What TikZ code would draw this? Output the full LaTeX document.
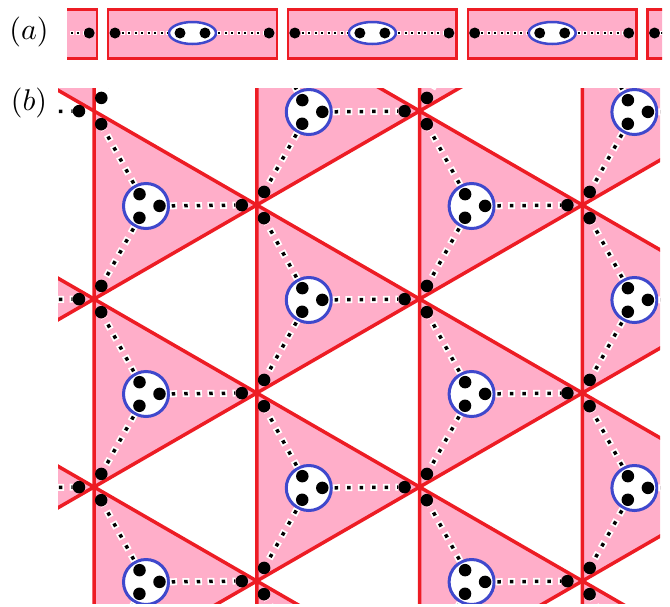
\documentclass[tikz,border=0pt]{standalone}
\usetikzlibrary{calc,shapes.geometric}
\definecolor{rose}{RGB}{255,174,201}
\definecolor{paintred}{RGB}{237,28,36}
\definecolor{paintblue}{RGB}{63,72,204}
\begin{document}
\begin{tikzpicture}[x=1pt, y=-1pt,
        cell/.style={fill=rose, draw=paintred, line width=3.5pt},
        bar/.style={rectangle, fill=rose, draw=paintred, line width=2.5pt,
        minimum width=168.7, minimum height=49.2, inner sep=0pt},
        ring/.style={circle, fill=white, draw=paintblue, line width=3pt,
        minimum size=45, inner sep=0pt},
        oval/.style={ellipse, fill=white, draw=paintblue, line width=2.5pt,
        minimum width=47, minimum height=22, inner sep=0pt},
        bead/.style={circle, fill=black, minimum size=12.5, inner sep=0pt},
        smallbead/.style={bead, minimum size=11},
        link/.style={draw=white, line width=7pt, dash pattern=on 7pt off 5.5pt,
        postaction={draw=black, line width=3.5pt, dash pattern=on 3.5pt off 9pt,
        dash phase=10.75pt}},
        smalllink/.style={draw=white, line width=4pt, dash pattern=on 4pt off 2.5pt,
        postaction={draw=black, line width=2pt, dash pattern=on 2pt off 4.5pt,
        dash phase=5.5pt}}
    ]
        \useasboundingbox (0,0) rectangle (670,606);
        \node[scale=3] (la) at (29,32) {$(a)$};
        \node[scale=3] (lb) at (29,103) {$(b)$};

        % (a) chain of dimers
        \begin{scope}
            \clip (67,0) rectangle (662,70);
            \foreach \n in {0,...,4} {
                \pgfmathsetmacro{\xc}{192.5+(\n-1)*179.85}
                \node[bar] (box\n) at (\xc,34) {};
                \node[oval] (el\n) at (\xc,33) {};
                \node[smallbead] (ia\n) at (\xc-12.5,33) {};
                \node[smallbead] (ib\n) at (\xc+12.5,33) {};
                \node[smallbead] (pl\n) at (\xc-77.5,33) {};
                \node[smallbead] (pr\n) at (\xc+76.5,33) {};
                \draw[smalllink] (pl\n) -- (el\n);
                \draw[smalllink] (el\n) -- (pr\n);
            }
        \end{scope}

        % (b) trimers on the triangles
        \begin{scope}
            \clip (58,88) rectangle (660,603);
            \filldraw[cell] (-68.8,17) -- (94,-77) -- (94,111) -- cycle;
            \foreach \j in {0,...,4}
            \foreach \k in {0,...,3} {
                \pgfmathsetmacro{\xl}{94+(\j-1)*162.8}
                \pgfmathsetmacro{\yt}{111+94*(1-mod(\j,2))+188*(\k-1)}
                \coordinate (a\j\k) at (\xl,\yt);
                \coordinate (b\j\k) at (\xl,\yt+188);
                \coordinate (c\j\k) at (\xl+162.8,\yt+94);
                \coordinate (o\j\k) at (\xl+52,\yt+95);
                \pgfmathtruncatemacro{\hide}{(\j<2)&&(\k==0)}
                \ifnum\hide=0
                    \filldraw[cell] (a\j\k) -- (b\j\k) -- (c\j\k) -- cycle;
                \fi
            }
            \foreach \j in {0,...,4}
            \foreach \k in {0,...,3} {
                \node[ring] (r\j\k) at (o\j\k) {};
                \foreach \v in {a,b,c} {
                    \node[bead] (n\v\j\k) at ($(o\j\k)!13.5pt!(\v\j\k)$) {};
                    \node[bead] (m\v\j\k) at ($(\v\j\k)!15pt!(o\j\k)$) {};
                    \draw[link] (r\j\k) -- (m\v\j\k);
                }
            }
        \end{scope}
    \end{tikzpicture}
\end{document}
